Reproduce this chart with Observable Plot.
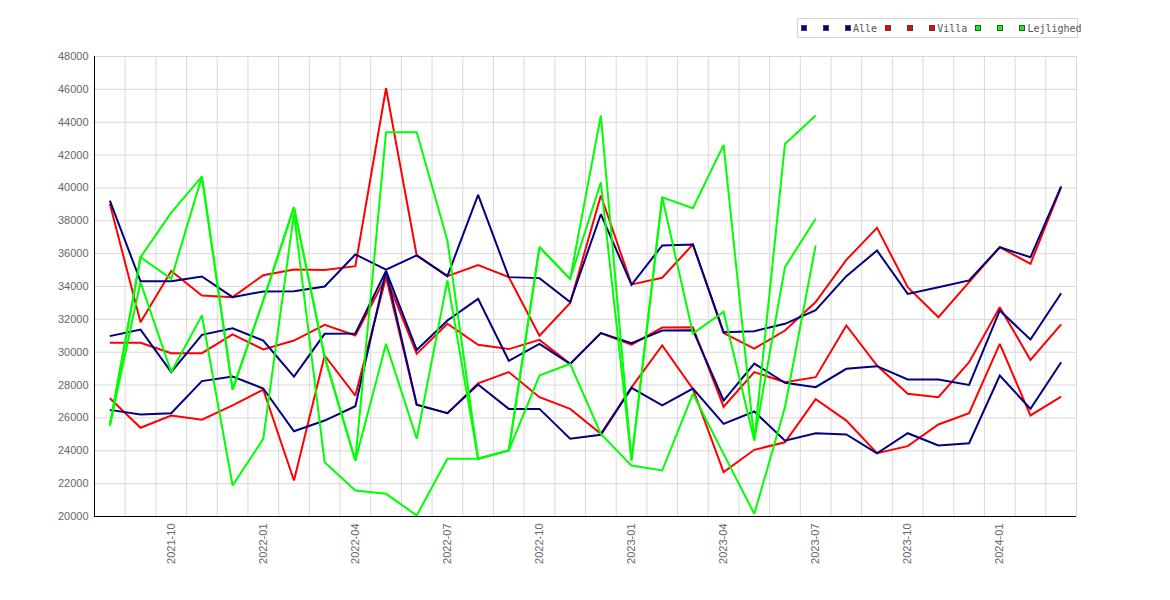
<!DOCTYPE html>
<html>
<head>
<meta charset="utf-8">
<script src="https://cdn.jsdelivr.net/npm/d3@7"></script>
<script src="https://cdn.jsdelivr.net/npm/@observablehq/plot@0.6"></script>
<style>
  body { margin: 0; background: #fff; }
  #wrap { position: relative; width: 1170px; height: 600px; }
  #legend {
    position: absolute; left: 797px; top: 18px; width: 276px; height: 18px;
    border: 1px solid #d4d4d4; padding-left: 3px;
    font: 10px "DejaVu Sans Mono", monospace; color: #555;
    display: flex; align-items: center; white-space: nowrap; overflow: visible;
  }
  .it { display: inline-flex; align-items: center; margin-right: 8px; }
  .sw { display: inline-block; width: 4px; height: 4px; border: 1px solid #444; margin-right: 2px; }
</style>
</head>
<body>
<div id="wrap">
  <div id="chart"></div>
  <div id="legend"></div>
</div>
<script>
const months = ["2021-08","2021-09","2021-10","2021-11","2021-12","2022-01","2022-02","2022-03","2022-04","2022-05","2022-06","2022-07","2022-08","2022-09","2022-10","2022-11","2022-12","2023-01","2023-02","2023-03","2023-04","2023-05","2023-06","2023-07","2023-08","2023-09","2023-10","2023-11","2023-12","2024-01","2024-02","2024-03"];

const alleHigh = [39230,34320,34320,34610,33350,33700,33710,34000,35950,35030,35890,34630,39580,34570,34510,33050,38400,34100,36500,36560,31220,31280,31730,32560,34630,36190,33550,33960,34370,36390,35780,40090];
const alleMid  = [30980,31380,28790,31060,31460,30710,28520,31120,31140,34950,30140,31930,33250,29480,30510,29290,31160,30550,31320,31340,27060,29310,28140,27870,28990,29150,28340,28340,28010,32540,30770,33590];
const alleLow  = [26490,26210,26290,28240,28520,27790,25190,25840,26710,34950,26800,26290,28030,26550,26550,24730,24970,27830,26760,27790,25640,26390,24610,25070,24990,23850,25070,24320,24460,28580,26550,29390];

const villaHigh = [39030,31830,34950,33450,33350,34690,35040,35000,35240,46070,35890,34630,35300,34570,31000,33000,39540,34130,34530,36560,31160,30220,31320,33050,35620,37570,33960,32130,34270,36390,35380,40050];
const villaMid  = [30570,30570,29940,29940,31080,30170,30710,31670,31020,34570,29900,31730,30450,30190,30750,29290,31160,30460,31500,31520,26680,28790,28170,28480,31630,29190,27470,27260,29390,32740,29530,31690];
const villaLow  = [27200,25400,26150,25890,26760,27720,22190,29800,27360,34570,26800,26290,28100,28790,27260,26550,25030,27860,30410,27770,22700,24060,24520,27140,25840,23850,24280,25600,26290,30510,26150,27300];

const lejHigh = [25540,35780,38500,40690,27720,33150,38830,29700,23400,43390,43390,36800,23510,24020,36400,34460,44410,23410,39430,38760,42620,24630,42680,44410];
const lejMid  = [25540,35780,34470,40690,27720,33150,38830,29700,23400,30510,24730,34370,23510,24020,36400,34460,40350,23410,39430,31130,32460,24630,35180,38120];
const lejLow  = [25540,34260,28790,32240,21890,24730,38430,23300,21580,21380,20060,23510,23510,24020,28580,29290,25030,23100,22800,27470,23810,20160,26650,36500];

const yTicks = [20000,22000,24000,26000,28000,30000,32000,34000,36000,38000,40000,42000,44000,46000,48000];
const legendLabels = ["", "", "Alle", "", "", "Villa", "", "", "Lejlighed"];

const groups = [
  {name: "Villa", color: "#ff0000", sets: [villaHigh, villaMid, villaLow]},
  {name: "Alle", color: "#000080", sets: [alleHigh, alleMid, alleLow]},
  {name: "Lejlighed", color: "#00ff00", sets: [lejHigh, lejMid, lejLow]}
];

const bounds = d3.range(months.length + 1).map(i => i - 0.5);
const labelIdx = months.map((m, i) => i).filter(i => /-(01|04|07|10)$/.test(months[i]));

const lineMarks = groups.map(g => {
  const rows = g.sets.flatMap((arr, k) => arr.map((v, i) => ({key: g.name + k, i, v})));
  return Plot.line(rows, {x: "i", y: "v", z: "key", stroke: g.color, strokeWidth: 2,
    strokeLinejoin: "miter", strokeMiterlimit: 2, strokeLinecap: "butt"});
});

const chart = Plot.plot({
  width: 1170, height: 600,
  marginLeft: 94, marginRight: 94, marginTop: 56, marginBottom: 84,
  x: {type: "linear", domain: [-0.5, months.length - 0.5], label: null},
  y: {domain: [20000, 48000], label: null},
  style: {fontFamily: "'Liberation Sans', Arial, sans-serif", fontSize: "11px", color: "#666", background: "#fff"},
  marks: [
    Plot.gridY(yTicks, {stroke: "#d9d9d9", strokeOpacity: 1}),
    Plot.gridX(bounds, {stroke: "#d9d9d9", strokeOpacity: 1}),
    Plot.axisY(yTicks, {tickSize: 0, tickPadding: 6, tickFormat: d => String(d), fill: "#666", label: null}),
    Plot.axisX(labelIdx, {tickSize: 0, tickPadding: 7, tickRotate: -90, tickFormat: i => months[i], fill: "#666", label: null}),
    ...lineMarks,
    Plot.ruleX([-0.5], {stroke: "#000", strokeWidth: 1}),
    Plot.ruleY([20000], {stroke: "#000", strokeWidth: 1})
  ]
});
document.getElementById("chart").appendChild(chart);

const swatchColors = ["#000080","#000080","#000080","#ff0000","#ff0000","#ff0000","#00ff00","#00ff00","#00ff00"];
const legend = document.getElementById("legend");
legendLabels.forEach((lab, k) => {
  const it = document.createElement("span");
  it.className = "it";
  const sw = document.createElement("span");
  sw.className = "sw";
  sw.style.background = swatchColors[k];
  const tx = document.createElement("span");
  tx.textContent = lab === "" ? "\u00a0" : lab;
  it.appendChild(sw);
  it.appendChild(tx);
  legend.appendChild(it);
});
</script>
</body>
</html>
